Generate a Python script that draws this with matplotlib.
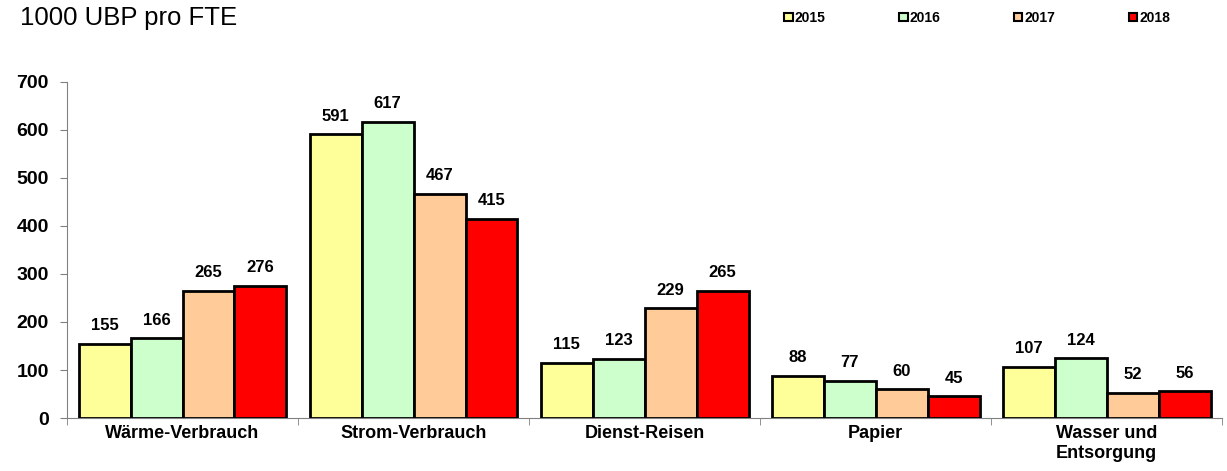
import matplotlib
matplotlib.use('Agg')
import matplotlib.pyplot as plt
import numpy as np

plt.rcParams['font.family'] = ['Liberation Sans', 'DejaVu Sans']

kategorien = ['Wärme-Verbrauch', 'Strom-Verbrauch', 'Dienst-Reisen', 'Papier', 'Wasser und\nEntsorgung']
jahre = ['2015', '2016', '2017', '2018']
werte_2015 = [155, 591, 115, 88, 107]
werte_2016 = [166, 617, 123, 77, 124]
werte_2017 = [265, 467, 229, 60, 52]
werte_2018 = [276, 415, 265, 45, 56]
farben = ['#FFFF99', '#CCFFCC', '#FFCC99', '#FF0000']

fig = plt.figure(figsize=(12.27, 4.71), dpi=100)
ax = fig.add_axes([0.0546, 0.1125, 0.9414, 0.7135])

x = np.arange(len(kategorien))
breite = 0.225
for i, werte in enumerate([werte_2015, werte_2016, werte_2017, werte_2018]):
    pos = x + (i - 1.5) * breite
    ax.bar(pos, werte, breite, color=farben[i], edgecolor='black', linewidth=2, label=jahre[i], zorder=3)
    for p, w in zip(pos, werte):
        ax.text(p, w + 22, str(w), ha='center', va='bottom', fontsize=12, fontweight='bold')

ax.set_xlim(-0.5, len(kategorien) - 0.5)
ax.set_ylim(0, 700)
ax.set_yticks(range(0, 701, 100))
ax.set_yticklabels([str(v) for v in range(0, 701, 100)], fontsize=14, fontweight='bold')
ax.set_xticks(np.arange(-0.5, len(kategorien)), minor=True)
ax.set_xticks(x)
ax.set_xticklabels(kategorien, fontsize=13, fontweight='bold')
ax.tick_params(axis='x', which='major', length=0, pad=5)
ax.tick_params(axis='x', which='minor', length=5, color='#808080', direction='out')
ax.tick_params(axis='y', length=5, color='#808080', direction='out', pad=8)
for s in ['top', 'right']:
    ax.spines[s].set_visible(False)
ax.spines['left'].set_color('#808080')
ax.spines['bottom'].set_color('#808080')

fig.text(0.016, 0.962, '1000 UBP pro FTE', fontsize=18.5, va='center', ha='left')
leg = fig.legend(loc='center right', bbox_to_anchor=(0.964, 0.962), ncol=4, frameon=False,
                 prop={'weight': 'bold', 'size': 10}, handlelength=0.6, handleheight=0.6,
                 handletextpad=0.15, columnspacing=5.3)
for h in leg.legend_handles:
    h.set_linewidth(1.5)

fig.savefig('out.png', dpi=100)
